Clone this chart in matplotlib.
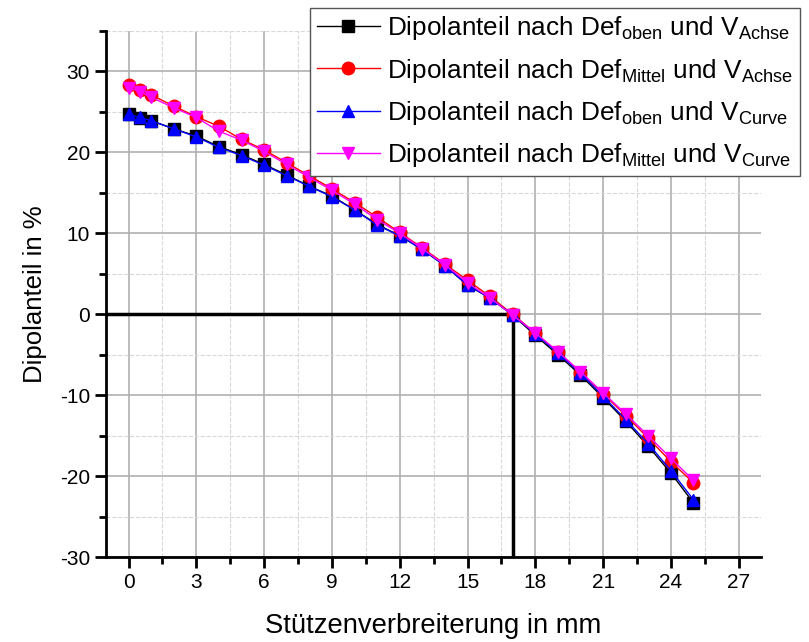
import matplotlib
matplotlib.use('Agg')
import matplotlib.pyplot as plt
from matplotlib.ticker import MultipleLocator

plt.rcParams['font.family'] = ['Liberation Sans', 'DejaVu Sans']
plt.rcParams['mathtext.fontset'] = 'custom'
plt.rcParams['mathtext.rm'] = 'Liberation Sans'
plt.rcParams['mathtext.it'] = 'Liberation Sans'
plt.rcParams['axes.unicode_minus'] = False

# Stützenverbreiterung in mm
x = [0, 0.5, 1, 2, 3, 4, 5, 6, 7, 8, 9, 10, 11, 12, 13, 14, 15, 16, 17,
     18, 19, 20, 21, 22, 23, 24, 25]

# Dipolanteil in %
oben_achse = [24.7, 24.2, 23.9, 22.9, 22.0, 20.7, 19.7, 18.5, 17.2, 15.8, 14.6,
              12.9, 11.1, 9.7, 8.0, 6.0, 3.6, 2.0, -0.1, -2.6, -5.0, -7.5,
              -10.3, -13.2, -16.3, -19.6, -23.3]
mittel_achse = [28.3, 27.7, 27.1, 25.7, 24.4, 23.2, 21.6, 20.3, 18.7, 17.1, 15.5,
                13.8, 12.0, 10.1, 8.2, 6.2, 4.2, 2.2, 0.0, -2.3, -4.7, -7.2,
                -9.8, -12.5, -15.3, -18.2, -20.8]
oben_curve = [24.7, 24.3, 23.9, 22.9, 21.9, 20.6, 19.6, 18.4, 17.1, 15.8, 14.5,
              12.9, 11.0, 9.7, 8.0, 6.0, 3.6, 2.0, -0.1, -2.4, -4.8, -7.3,
              -10.1, -13.0, -16.0, -19.3, -22.9]
mittel_curve = [28.0, 27.5, 26.8, 25.5, 24.3, 22.6, 21.5, 20.1, 18.5, 16.9, 15.3,
                13.6, 11.7, 10.0, 8.1, 6.1, 3.9, 2.0, -0.1, -2.3, -4.6, -7.1,
                -9.7, -12.3, -15.0, -17.8, -20.5]

# Nulldurchgang
x_null = 17.0

fig = plt.figure(figsize=(8.09, 6.42), dpi=100)
ax = fig.add_axes([0.131, 0.132, 0.81, 0.82])

ax.plot(x, oben_achse, color='black', marker='s', ms=8, lw=1,
        label=r'Dipolanteil nach Def$_{\mathrm{oben}}$ und V$_{\mathrm{Achse}}$')
ax.plot(x, mittel_achse, color='red', marker='o', ms=9, lw=1,
        label=r'Dipolanteil nach Def$_{\mathrm{Mittel}}$ und V$_{\mathrm{Achse}}$')
ax.plot(x, oben_curve, color='blue', marker='^', ms=9, lw=1,
        label=r'Dipolanteil nach Def$_{\mathrm{oben}}$ und V$_{\mathrm{Curve}}$')
ax.plot(x, mittel_curve, color='magenta', marker='v', ms=9, lw=1,
        label=r'Dipolanteil nach Def$_{\mathrm{Mittel}}$ und V$_{\mathrm{Curve}}$')

ax.plot([-1, x_null, x_null], [0, 0, -30], color='black', lw=2.5, zorder=1)

ax.set_xlim(-1, 28)
ax.set_ylim(-30, 35)
ax.xaxis.set_major_locator(MultipleLocator(3))
ax.xaxis.set_minor_locator(MultipleLocator(1.5))
ax.yaxis.set_major_locator(MultipleLocator(10))
ax.yaxis.set_minor_locator(MultipleLocator(5))

ax.grid(which='major', color='#b0b0b0', lw=1.2, zorder=0)
ax.grid(which='minor', color='#d8d8d8', lw=0.8, ls='--', zorder=0)
ax.set_axisbelow(True)

ax.spines['top'].set_visible(False)
ax.spines['right'].set_visible(False)
ax.spines['left'].set_linewidth(2)
ax.spines['bottom'].set_linewidth(2)
ax.tick_params(which='major', length=8, width=2, labelsize=15)
ax.tick_params(which='minor', length=5, width=2)

ax.set_xlabel('Stützenverbreiterung in mm', fontsize=19.7, labelpad=15)
ax.set_ylabel('Dipolanteil in %', fontsize=18.5, labelpad=9)

leg = ax.legend(loc='upper right', bbox_to_anchor=(0.989, 0.988),
                bbox_transform=fig.transFigure, fontsize=18.8, fancybox=False,
                edgecolor='#555555', framealpha=1, handlelength=2.4,
                borderaxespad=0, labelspacing=0.55, borderpad=0.25,
                handletextpad=0.3)
leg.get_frame().set_linewidth(1)

fig.savefig('out.png', dpi=100)
